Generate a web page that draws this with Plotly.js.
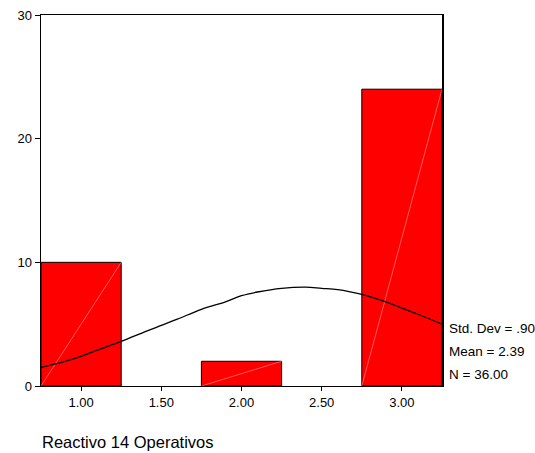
<!DOCTYPE html>
<html><head><meta charset="utf-8">
<script src="https://cdn.plot.ly/plotly-3.0.1.min.js"></script>
<style>body{margin:0;background:#fff}#c{width:535px;height:453px}</style>
</head><body><div id="c"></div>
<script>
// Histogram data (bin centres and counts)
const binCenters = [1.0, 2.0, 3.0];
const counts = [10, 2, 24];
const binWidth = 0.5;
// Fitted normal curve
const curveX = [0.75, 0.90, 1.00, 1.10, 1.25, 1.40, 1.50, 1.60, 1.75, 1.90, 2.00, 2.10, 2.25, 2.40, 2.50, 2.60, 2.75, 2.90, 3.00, 3.10, 3.25];
const curveY = [1.5, 2.0, 2.4, 2.9, 3.6, 4.4, 4.9, 5.4, 6.2, 6.8, 7.3, 7.6, 7.9, 8.0, 7.9, 7.8, 7.4, 6.8, 6.3, 5.8, 5.0];
const tickVals = [1.0, 1.5, 2.0, 2.5, 3.0];
const tickText = ["1.00", "1.50", "2.00", "2.50", "3.00"];
const yTicks = [0, 10, 20, 30];
const stats = ["Std. Dev = .90", "Mean = 2.39", "N = 36.00"];
const xLabel = "Reactivo 14 Operativos";

const traces = [{
  type: 'bar', x: binCenters, y: counts, width: binWidth,
  marker: {color: '#FF0000', line: {color: '#000', width: 1}},
  hoverinfo: 'none'
}];
// faint diagonal artefact lines in each bar
binCenters.forEach((c, i) => {
  traces.push({type: 'scatter', mode: 'lines',
    x: [c - binWidth / 2, c + binWidth / 2], y: [0, counts[i]],
    line: {color: 'rgba(255,190,190,0.8)', width: 0.6}, hoverinfo: 'none'});
});
traces.push({type: 'scatter', mode: 'lines', x: curveX, y: curveY,
  line: {color: '#000', width: 1.3, shape: 'spline'}, hoverinfo: 'none'});

const statY = [0.154, 0.092, 0.030];
const annotations = stats.map((s, i) => ({
  text: s, xref: 'paper', yref: 'paper', x: 1.012, y: statY[i],
  xanchor: 'left', yanchor: 'middle', showarrow: false,
  font: {size: 13.5, color: '#000'}
}));
annotations.push({text: xLabel, xref: 'paper', yref: 'paper', x: -0.003, y: -0.151,
  xanchor: 'left', yanchor: 'middle', showarrow: false, font: {size: 16.5, color: '#000'}});

Plotly.newPlot('c', traces, {
  width: 535, height: 453,
  margin: {l: 41, r: 93, t: 15, b: 67},
  paper_bgcolor: '#fff', plot_bgcolor: '#fff',
  showlegend: false, bargap: 0,
  font: {family: 'Liberation Sans, Arial, sans-serif', color: '#000', size: 13},
  xaxis: {range: [0.75, 3.25], tickvals: tickVals, ticktext: tickText,
    ticks: 'outside', ticklen: 4, tickcolor: '#000', showgrid: false, zeroline: false,
    showline: true, linecolor: '#000', linewidth: 1, mirror: true, tickfont: {size: 13}},
  yaxis: {range: [0, 30], tickvals: yTicks, ticks: 'outside', ticklen: 5, tickcolor: '#000',
    showgrid: false, zeroline: false, showline: true, linecolor: '#000', linewidth: 1.5,
    mirror: true, tickfont: {size: 13}},
  annotations: annotations
}, {staticPlot: true});
</script></body></html>
